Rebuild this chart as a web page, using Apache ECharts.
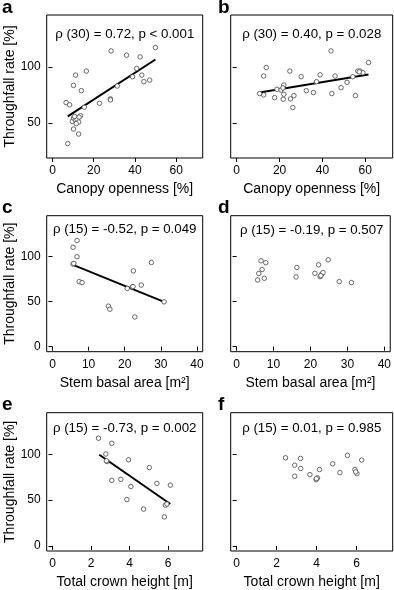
<!DOCTYPE html>
<html>
<head>
<meta charset="utf-8">
<script src="https://cdn.jsdelivr.net/npm/echarts@6/dist/echarts.min.js"></script>
<style>
  html, body { margin: 0; padding: 0; background: #fff; }
  #chart { width: 394px; height: 590px; }
</style>
</head>
<body>
<div id="chart"></div>
<script>
// panel a: canopy openness vs throughfall
const aPoints = [[7.4,31.8],[6.6,68.2],[8.3,66.2],[10.2,44.7],[12.7,40.3],[9.6,51.5],[10.2,54.4],[11.1,52.9],
  [11.9,53.5],[12.7,50.9],[13.6,56.5],[10.7,55.9],[12.9,55.3],[10.2,83.5],[11.2,92.6],[14,78.8],[16.4,96.2],
  [15.4,64.1],[22.8,67.6],[28.1,71.5],[28.1,70.6],[28.4,114.1],[31.4,82.9],[35.9,110.3],[38.8,91.2],
  [40.8,98.5],[42.5,108.8],[43.3,92.6],[44.3,86.8],[47.1,88.2],[49.9,117.1],[11.5,49.5]]
const aFit = [[7.4,55.9],[49.9,106.5]]
// panel b
const bPoints = [[10.7,76.2],[12.6,75],[12.6,91.8],[13.8,99.4],[17.7,72.6],[18.8,80],[21.7,71.2],[22,75.6],
  [22,83.8],[24.8,96.2],[25.1,71.5],[26.2,63.8],[26.7,74.4],[30.1,91.2],[32.5,78.8],[35.8,77.1],[37.2,86.8],
  [38.9,92.9],[44,114.1],[44.4,76.2],[45.9,91.8],[48.7,81.5],[51.5,86.2],[54.2,91.2],[55.4,74.4],[56.5,96.2],
  [57.6,96.2],[58.9,94.7],[61.5,103.8],[20.7,79.4],[21.6,81.2],[57.2,95.5]]
const bFit = [[10.7,77.1],[61.5,93.2]]
// panel c: stem basal area
const cPoints = [[5.7,110.5],[6.8,118],[6.8,100],[5.7,91.8],[7.4,72.3],[8.2,71.2],[15.5,45],[15.9,41.6],
  [20.7,64.8],[22.4,84.3],[22.1,66.3],[22.8,33],[24.6,68.5],[27.4,93.6],[30.9,49.8],[5.9,92.5],[22.3,66.8]]
const cFit = [[5.7,91],[30.9,49.8]]
// panel d
const dPoints = [[5.7,74.2],[6.0,81.3],[6.6,95.5],[6.9,85.8],[7.5,76.0],[7.9,93.3],[16.1,77.5],[16.3,88.0],
  [21.2,81.6],[22.2,91.0],[22.6,77.9],[23.0,80.5],[23.4,82.4],[24.8,96.6],[27.8,72.3],[31.1,71.2],[22.8,79]]
// panel e: total crown height
const ePoints = [[2.39,117.7],[2.77,100.4],[2.83,92.2],[3.08,112.2],[3.08,71.6],[3.55,72.7],[3.95,94.1],
  [4.07,64.9],[3.86,50.6],[4.73,40.2],[5.03,85.6],[5.42,68.3],[5.86,44.5],[5.81,31.7],[6.12,66.4],[5.94,45.8],[2.8,93]]
const eFit = [[2.43,99.6],[6.12,45.8]]
// panel f
const fPoints = [[2.44,96.3],[2.9,88.2],[2.9,76.1],[3.19,95.6],[3.2,84.6],[3.66,77.9],[3.97,72.4],[4.04,74.3],
  [4.14,83.5],[4.8,89.7],[5.16,80.1],[5.54,98.9],[5.91,83.5],[6.01,79.0],[6.25,93.8],[3.98,73.5],[5.95,81]]

const statTexts = ['ρ (30) = 0.72, p < 0.001', 'ρ (30) = 0.40, p = 0.028', 'ρ (15) = -0.52, p = 0.049',
  'ρ (15) = -0.19, p = 0.507', 'ρ (15) = -0.73, p = 0.002', 'ρ (15) = 0.01, p = 0.985']
const panelLetters = ['a', 'b', 'c', 'd', 'e', 'f']
const xNames = ['Canopy openness [%]', 'Canopy openness [%]', 'Stem basal area [m²]',
  'Stem basal area [m²]', 'Total crown height [m]', 'Total crown height [m]']
const yName = 'Throughfall rate [%]'
const xTicks = [[0,20,40,60],[0,20,40,60],[0,10,20,30,40],[0,10,20,30,40],[0,2,4,6],[0,2,4,6]]
const yTicks = [[50,100],[50,100],[0,50,100],[0,50,100],[0,50,100],[0,50,100]]
const xRange = [[-2.8,72.8],[-2.8,72.8],[-1.6,41.6],[-1.6,41.6],[-0.3,7.8],[-0.3,7.8]]
const yRange = [[19,146],[19,146],[-5.6,145.6],[-5.6,145.6],[-5.6,145.6],[-5.6,145.6]]

const font = 'Liberation Sans, Arial, sans-serif'
const boxes = [
  { left: 46.7, top: 15, width: 156, height: 143 },
  { left: 230.7, top: 15, width: 162, height: 143 },
  { left: 46.7, top: 215.7, width: 156, height: 136 },
  { left: 230.7, top: 215.7, width: 162, height: 136 },
  { left: 46.7, top: 412.7, width: 156, height: 140 },
  { left: 230.7, top: 412.7, width: 162, height: 140 }
]
// where the stat text sits below the top of each box
const statOffset = [12.5, 12.5, 7.3, 7.8, 8.8, 8.8]
const pointSets = [aPoints, bPoints, cPoints, dPoints, ePoints, fPoints]
const fitSets = [aFit, bFit, cFit, null, eFit, null]

const grid = [], xAxis = [], yAxis = [], series = [], title = []
boxes.forEach((b, i) => {
  grid.push({ ...b, show: true, borderColor: '#000', borderWidth: 1, backgroundColor: 'transparent' })
  const leftCol = i % 2 === 0
  xAxis.push({
    type: 'value', gridIndex: i, min: xRange[i][0], max: xRange[i][1],
    name: xNames[i], nameLocation: 'middle', nameGap: 24,
    nameTextStyle: { color: '#000', fontSize: 14, fontFamily: font },
    axisLine: { show: false },
    axisTick: { show: true, inside: false, length: 4, lineStyle: { color: '#000' }, customValues: xTicks[i] },
    axisLabel: { color: '#000', fontSize: 12, fontFamily: font, margin: 7, customValues: xTicks[i] },
    splitLine: { show: false }
  })
  yAxis.push({
    type: 'value', gridIndex: i, min: yRange[i][0], max: yRange[i][1],
    name: leftCol ? yName : '', nameLocation: 'middle', nameGap: 25,
    nameTextStyle: { color: '#000', fontSize: 14, fontFamily: font },
    axisLine: { show: false },
    axisTick: { show: true, inside: false, length: 4, lineStyle: { color: '#000' }, customValues: yTicks[i] },
    axisLabel: { show: leftCol, color: '#000', fontSize: 12, fontFamily: font, margin: 6, customValues: yTicks[i] },
    splitLine: { show: false }
  })
  series.push({
    type: 'scatter', xAxisIndex: i, yAxisIndex: i, data: pointSets[i],
    symbol: 'circle', symbolSize: 4.5, z: 4,
    itemStyle: { color: '#fff', borderColor: '#444', borderWidth: 0.8, opacity: 1 }
  })
  if (fitSets[i]) {
    series.push({
      type: 'line', xAxisIndex: i, yAxisIndex: i, data: fitSets[i],
      symbol: 'none', lineStyle: { color: '#000', width: 2 }, z: 3
    })
  }
  title.push({
    text: statTexts[i], left: b.left + b.width / 2, top: b.top + statOffset[i], textAlign: 'center',
    padding: 0,
    textStyle: { color: '#000', fontSize: 13.3, fontWeight: 'normal', fontFamily: font }
  })
  title.push({
    text: panelLetters[i], left: leftCol ? 2 : 218, top: b.top - 17, padding: 0,
    textStyle: { color: '#000', fontSize: 19, fontWeight: 'bold', fontFamily: font }
  })
})

const myChart = echarts.init(document.getElementById('chart'))
myChart.setOption({ animation: false, backgroundColor: '#fff', title, grid, xAxis, yAxis, series })
</script>
</body>
</html>
